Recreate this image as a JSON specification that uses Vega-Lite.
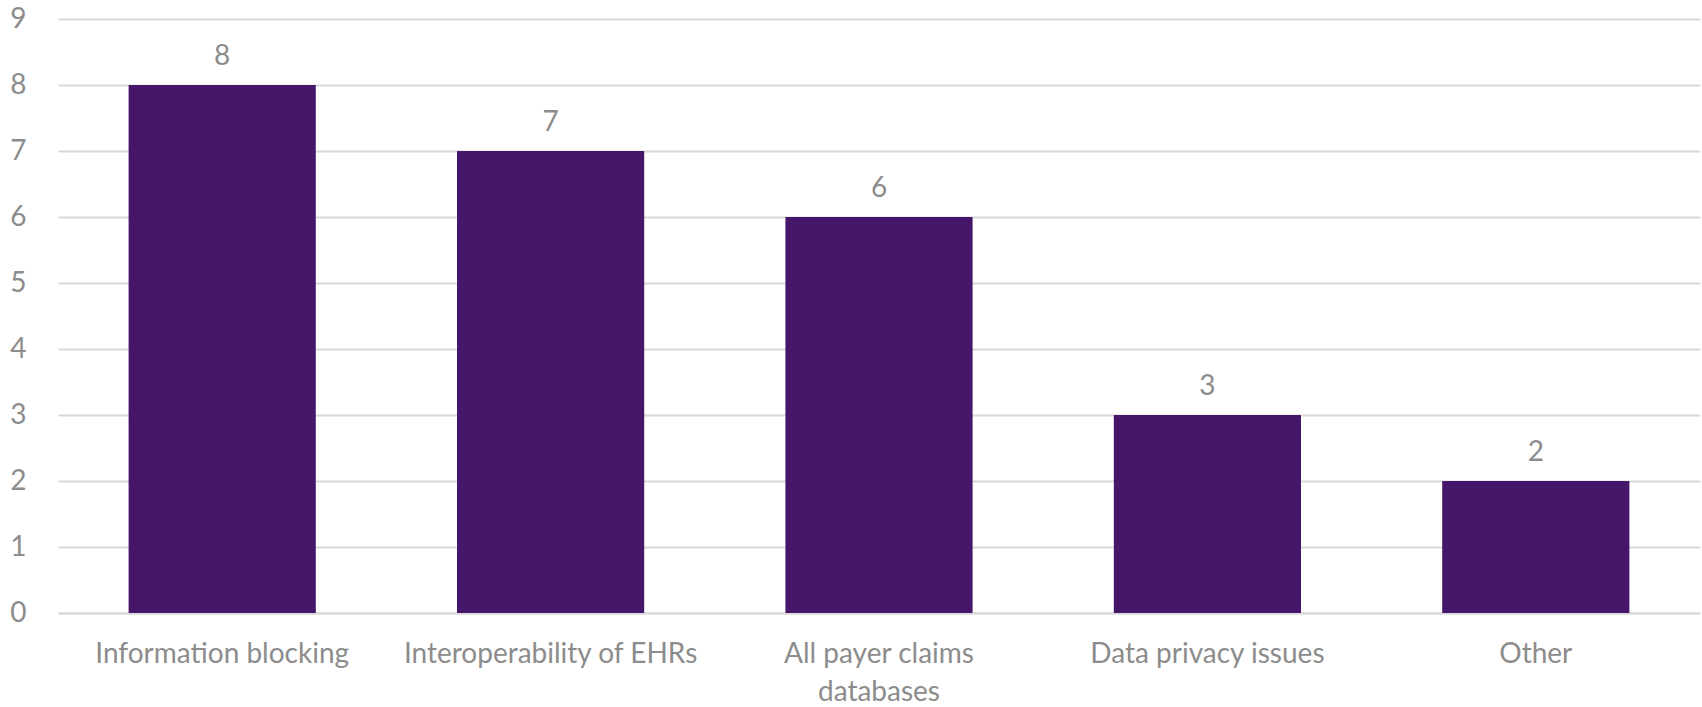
{
  "$schema": "https://vega.github.io/schema/vega-lite/v6.json",
  "autosize": {"type": "none"},
  "padding": {"left": 58, "top": 19, "right": 2, "bottom": 94},
  "width": 1642,
  "height": 594,
  "background": "white",
  "config": {"view": {"stroke": null}, "font": "Lato"},
  "data": {"values": [
    {"category": "Information blocking", "count": 8},
    {"category": "Interoperability of EHRs", "count": 7},
    {"category": "All payer claims databases", "count": 6},
    {"category": "Data privacy issues", "count": 3},
    {"category": "Other", "count": 2}
  ]},
  "encoding": {
    "x": {"field": "category", "type": "nominal", "sort": null,
      "scale": {"paddingInner": 0.43, "paddingOuter": 0.215},
      "axis": {"title": null, "labelAngle": 0, "labelFont": "Lato", "labelFontSize": 28, "labelColor": "#8c8c8c", "labelLimit": 0,
        "labelExpr": "datum.label == 'All payer claims databases' ? ['All payer claims', 'databases'] : datum.label",
        "labelLineHeight": 38, "labelPadding": 27, "ticks": false, "domainColor": "#d9d9d9", "domainWidth": 2, "labelBaseline": "top"}},
    "y": {"field": "count", "type": "quantitative",
      "scale": {"domain": [0, 9], "nice": false},
      "axis": {"title": null, "values": [0,1,2,3,4,5,6,7,8,9], "labelOverlap": false, "labelFont": "Lato", "labelFontSize": 28, "labelColor": "#8c8c8c",
        "domain": false, "ticks": false, "labelPadding": 32, "gridColor": "#d9d9d9", "gridWidth": 2}}
  },
  "layer": [
    {"mark": {"type": "bar", "color": "#46166b"}},
    {"mark": {"type": "text", "baseline": "bottom", "dy": -14, "font": "Lato", "fontSize": 28, "color": "#8c8c8c"},
      "encoding": {"text": {"field": "count", "type": "quantitative"}}}
  ]
}
